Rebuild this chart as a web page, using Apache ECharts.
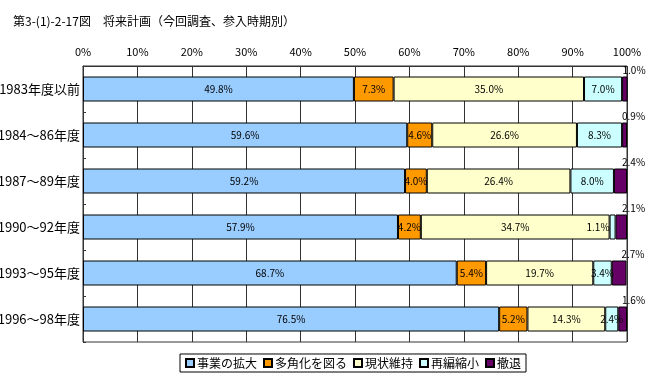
<!DOCTYPE html>
<html><head><meta charset="utf-8">
<script src="https://cdn.jsdelivr.net/npm/echarts@6/dist/echarts.min.js"></script>
<style>html,body{margin:0;padding:0;background:#fff}#c{width:649px;height:376px}</style>
</head><body><div id="c"></div>
<script>
const titleText = '第3-(1)-2-17図　将来計画（今回調査、参入時期別）';
const categories = ['1983年度以前','1984～86年度','1987～89年度','1990～92年度','1993～95年度','1996～98年度'];
const seriesNames = ['事業の拡大','多角化を図る','現状維持','再編縮小','撤退'];
const expand = [49.8, 59.6, 59.2, 57.9, 68.7, 76.5];
const diversify = [7.3, 4.6, 4.0, 4.2, 5.4, 5.2];
const maintain = [35.0, 26.6, 26.4, 34.7, 19.7, 14.3];
const shrink = [7.0, 8.3, 8.0, 1.1, 3.4, 2.4];
const withdraw = [1.0, 0.9, 2.4, 2.1, 2.7, 1.6];
const xTicks = [0,10,20,30,40,50,60,70,80,90,100];

const colors = ['#99CCFF','#FF9900','#FFFFCC','#CCFFFF','#660066'];
const allData = [expand, diversify, maintain, shrink, withdraw];
const font = "'Noto Sans CJK JP', sans-serif";
const fmt = p => Number(p.value).toFixed(1) + '%';

const series = allData.map((arr, i) => {
  const s = {
    name: seriesNames[i], type: 'bar', stack: 'total', barWidth: 25,
    itemStyle: { color: colors[i], borderColor: '#000', borderWidth: 1 },
    data: arr.map(v => {
      const d = { value: v };
      if (i === 3 && v < 2) d.label = { position: 'left', distance: 0 };
      return d;
    }),
    label: { show: true, position: 'inside', formatter: fmt, color: '#000', fontSize: 10, fontFamily: font },
    emphasis: { disabled: true },
    animation: false
  };
  if (i === 4) {
    s.label = { show: true, position: 'right', distance: 0, offset: [-5, -19], formatter: fmt, color: '#000', fontSize: 10, fontFamily: font };
  }
  return s;
});

const chart = echarts.init(document.getElementById('c'));
chart.setOption({
  animation: false,
  title: { text: titleText, left: 8, top: 10, textStyle: { fontSize: 12, fontWeight: 'normal', color: '#000', fontFamily: font } },
  legend: {
    bottom: 4, left: 180, icon: 'rect', itemWidth: 8, itemHeight: 8, itemGap: 6,
    borderColor: '#000', borderWidth: 1, padding: [3, 5], borderRadius: 0,
    textStyle: { fontSize: 12, color: '#000', fontFamily: font, padding: [0,0,0,-2] },
    data: seriesNames
  },
  grid: { left: 83, right: 22, top: 66, bottom: 34, show: true, borderColor: '#333', borderWidth: 1, containLabel: false, outerBoundsMode: 'none' },
  xAxis: {
    type: 'value', position: 'top', min: 0, max: 100, interval: 10,
    axisLabel: { formatter: v => xTicks.includes(v) ? v + '%' : '', fontSize: 11, color: '#000', fontFamily: font, margin: 9 },
    axisLine: { show: true, lineStyle: { color: '#333' } },
    axisTick: { show: false },
    splitLine: { show: true, lineStyle: { color: '#333', width: 1 } }
  },
  yAxis: {
    type: 'category', inverse: true, data: categories,
    axisLabel: { fontSize: 13, color: '#000', fontFamily: font, margin: 3 },
    axisLine: { show: true, lineStyle: { color: '#333' } },
    axisTick: { show: true, inside: true, length: 3, lineStyle: { color: '#333' } }
  },
  series
});
</script>
</body></html>
